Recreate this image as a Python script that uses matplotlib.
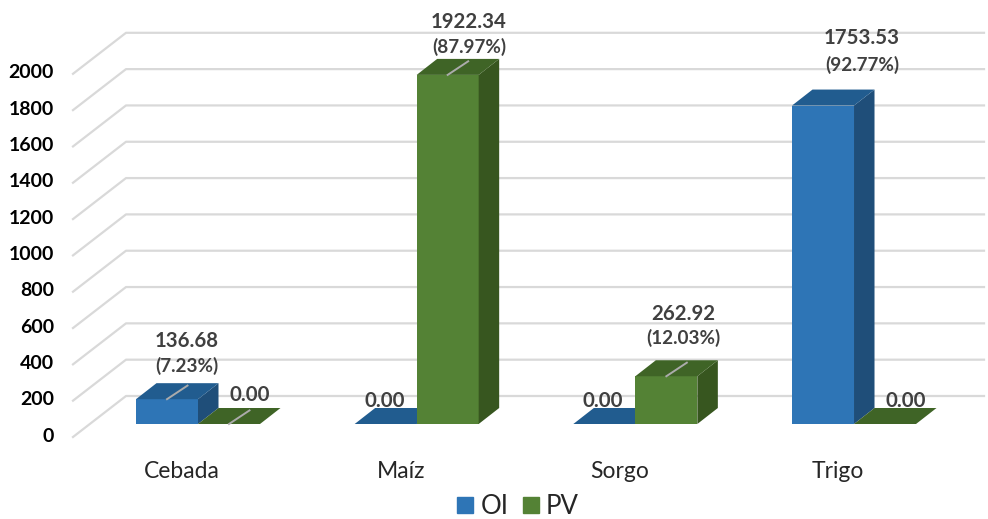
import matplotlib
matplotlib.use('Agg')
import matplotlib.pyplot as plt
from matplotlib.patches import Patch

categories = ['Cebada', 'Maíz', 'Sorgo', 'Trigo']
oi_values = [136.68, 0.00, 0.00, 1753.53]
pv_values = [0.00, 1922.34, 262.92, 0.00]
oi_percent = ['(7.23%)', None, None, '(92.77%)']
pv_percent = [None, '(87.97%)', '(12.03%)', None]
grid_values = list(range(0, 2001, 200))
tick_values = list(range(0, 2001, 200))

# layout, all in pixels of the 988x519 picture
W, H = 988, 519
GROUP_STEP = 218.67
FIRST_GROUP = 198
BASE_Y = 424
PX_PER_UNIT = 0.1816
BAR_W = 62 / GROUP_STEP
DEPTH_X = 20.5 / GROUP_STEP
DEPTH_Y = 16 / PX_PER_UNIT

OI_COLORS = ('#2E75B6', '#215C8F', '#1F4E79')
PV_COLORS = ('#548235', '#3F6426', '#37561F')
GRID = '#D9D9D9'
LEADER = '#ABABAB'
FONT = 'Lato'


def px_x(x):
    return (x - FIRST_GROUP) / GROUP_STEP


def px_y(y):
    return (BASE_Y - y) / PX_PER_UNIT


def draw_bar(ax, left, value, colors):
    right = left + BAR_W
    if value > 0:
        ax.bar(left, value, BAR_W, align='edge', color=colors[0], zorder=3)
        ax.fill([right, right + DEPTH_X, right + DEPTH_X, right],
                [0, DEPTH_Y, value + DEPTH_Y, value], color=colors[2], lw=0, zorder=3)
    ax.fill([left, left + DEPTH_X, right + DEPTH_X, right],
            [value, value + DEPTH_Y, value + DEPTH_Y, value], color=colors[1], lw=0, zorder=3)


def draw_leader(ax, left, value):
    mid = left + BAR_W / 2
    ax.plot([mid, mid + DEPTH_X], [value, value + DEPTH_Y * 0.85], color=LEADER,
            lw=1.4, zorder=4)


fig = plt.figure(figsize=(W / 100, H / 100), dpi=100)
ax = fig.add_axes([0, 0, 1, 1])
ax.set_xlim(px_x(0), px_x(W))
ax.set_ylim(px_y(H), px_y(0))
ax.axis('off')

# floor + back wall grid lines
front_drop = px_y(437)
back_rise = px_y(396)
for v in grid_values:
    ax.plot([px_x(73), px_x(126), px_x(984)],
            [v + front_drop, v + back_rise, v + back_rise],
            color=GRID, lw=1.6, zorder=1)

for v in tick_values:
    ax.text(px_x(54), v + px_y(436), str(v), ha='right', va='center',
            fontsize=14, fontweight='bold', color='black', family=FONT)

for i, name in enumerate(categories):
    draw_bar(ax, i - BAR_W, oi_values[i], OI_COLORS)
    draw_bar(ax, i, pv_values[i], PV_COLORS)
    ax.text(i + px_x(182) - px_x(198), px_y(471), name, ha='center', va='center',
            fontsize=16.5, color='#262626', family=FONT)

# only these labels got a leader line in the original
draw_leader(ax, 0 - BAR_W, oi_values[0])
draw_leader(ax, 0, pv_values[0])
draw_leader(ax, 1, pv_values[1])
draw_leader(ax, 2, pv_values[2])

value_pos = [(187, 341), (250, 395), (385, 401), (469, 22), (603, 401), (683, 314), (862, 38), (906, 401)]
pct_pos = [(187, 366), None, None, (469, 47), None, (683, 338), (862, 65), None]
values = [v for pair in zip(oi_values, pv_values) for v in pair]
percents = [p for pair in zip(oi_percent, pv_percent) for p in pair]
for val, pct, pos, ppos in zip(values, percents, value_pos, pct_pos):
    ax.text(px_x(pos[0]), px_y(pos[1]), f'{val:.2f}', ha='center', va='center',
            fontsize=14.7, fontweight='bold', color='#404040', family=FONT, zorder=5)
    if pct:
        ax.text(px_x(ppos[0]), px_y(ppos[1]), pct, ha='center', va='center',
                fontsize=13.6, fontweight='bold', color='#404040', family=FONT, zorder=5)

handles = [Patch(color=OI_COLORS[0], label='OI'), Patch(color=PV_COLORS[0], label='PV')]
ax.legend(handles=handles, ncol=2, loc='center', bbox_to_anchor=(518 / W, 1 - 506.5 / H),
          frameon=False, prop={'family': FONT, 'size': 18.5}, labelcolor='#262626',
          handlelength=0.62, handleheight=0.62, handletextpad=0.28, columnspacing=0.55,
          borderpad=0, borderaxespad=0)

fig.savefig('out.png', dpi=100)
